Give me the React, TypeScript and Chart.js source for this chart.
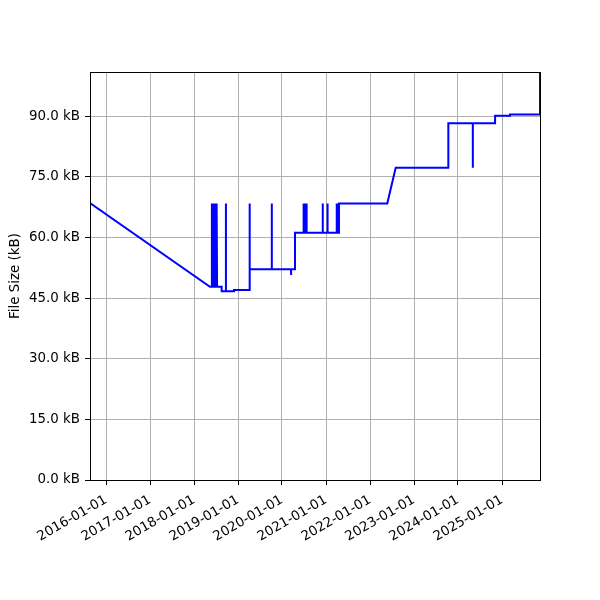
import { useEffect, useRef } from "react";
import { Chart, registerables } from "chart.js";

Chart.register(...registerables);

// file size history, one entry per commit (equal dates make the vertical spikes)
const commitDates: string[] = [
  "2015-08-21", "2018-05-13",
  "2018-05-29", "2018-05-29", "2018-05-30",
  "2018-06-04", "2018-06-04", "2018-06-05",
  "2018-06-10", "2018-06-10", "2018-06-11",
  "2018-06-16", "2018-06-16", "2018-06-17",
  "2018-06-22", "2018-06-22", "2018-06-23",
  "2018-06-28", "2018-06-28", "2018-06-29",
  "2018-07-04", "2018-07-04", "2018-07-05",
  "2018-07-10", "2018-07-10", "2018-07-11",
  "2018-08-18", "2018-08-18",
  "2018-09-22", "2018-09-22", "2018-09-23",
  "2018-11-29", "2018-11-29",
  "2019-04-05", "2019-04-05", "2019-04-06",
  "2019-04-10", "2019-04-10",
  "2019-10-08", "2019-10-08", "2019-10-09",
  "2020-03-16", "2020-03-16", "2020-03-17",
  "2020-04-18", "2020-04-18",
  "2020-06-28", "2020-06-28", "2020-06-29",
  "2020-07-10", "2020-07-10", "2020-07-11",
  "2020-07-23", "2020-07-23", "2020-07-24",
  "2020-12-04", "2020-12-04", "2020-12-05",
  "2021-01-13", "2021-01-13", "2021-01-14",
  "2021-03-30", "2021-03-30", "2021-03-31",
  "2021-04-09", "2021-04-09", "2021-04-10",
  "2021-04-18", "2021-04-18",
  "2022-05-24", "2022-08-02",
  "2023-10-13", "2023-10-13",
  "2024-05-03", "2024-05-03", "2024-05-04",
  "2024-11-04", "2024-11-04",
  "2025-03-08", "2025-03-08",
  "2025-11-12", "2025-11-12",
];

const fileSizesKB: number[] = [
  68.5, 47.8,
  47.8, 68.4, 47.8,
  47.8, 68.4, 47.8,
  47.8, 68.4, 47.8,
  47.8, 68.4, 47.8,
  47.8, 68.4, 47.8,
  47.8, 68.4, 47.8,
  47.8, 68.4, 47.8,
  47.8, 68.4, 47.8,
  47.8, 46.7,
  46.7, 68.4, 46.7,
  46.7, 47.0,
  47.0, 68.4, 47.0,
  47.0, 52.1,
  52.1, 68.4, 52.1,
  52.1, 50.7, 52.1,
  52.1, 61.15,
  61.15, 68.4, 61.15,
  61.15, 68.4, 61.15,
  61.15, 68.4, 61.15,
  61.15, 68.4, 61.15,
  61.15, 68.4, 61.15,
  61.15, 68.4, 61.15,
  61.15, 68.4, 61.15,
  61.15, 68.4,
  68.4, 77.2,
  77.2, 88.2,
  88.2, 77.2, 88.2,
  88.2, 90.1,
  90.1, 90.4,
  90.4, 100.9,
];

const yTickValues: number[] = [0, 15, 30, 45, 60, 75, 90];
const xTickDates: string[] = [
  "2016-01-01", "2017-01-01", "2018-01-01", "2019-01-01", "2020-01-01",
  "2021-01-01", "2022-01-01", "2023-01-01", "2024-01-01", "2025-01-01",
];
const yMaxKB = 100.9;

const toTime = (d: string) => Date.parse(d + "T00:00:00Z");

const framePlugin = {
  id: "frame",
  afterDatasetsDraw(chart: Chart) {
    const { ctx, chartArea } = chart;
    ctx.save();
    ctx.strokeStyle = "#000";
    ctx.lineWidth = 1;
    ctx.strokeRect(
      Math.round(chartArea.left) + 0.5,
      Math.round(chartArea.top) + 0.5,
      Math.round(chartArea.right - chartArea.left),
      Math.round(chartArea.bottom - chartArea.top)
    );
    ctx.restore();
  },
};

export default function App() {
  const canvasRef = useRef<HTMLCanvasElement>(null);
  const chartRef = useRef<Chart | null>(null);

  useEffect(() => {
    if (!canvasRef.current) return;
    if (chartRef.current) chartRef.current.destroy();

    const points = commitDates.map((d, i) => ({ x: toTime(d), y: fileSizesKB[i] }));
    const font = { family: "'DejaVu Sans', sans-serif", size: 13.4 };

    chartRef.current = new Chart(canvasRef.current, {
      type: "line",
      data: {
        datasets: [{
          data: points,
          borderColor: "#0000ff",
          borderWidth: 2,
          pointRadius: 0,
          tension: 0,
          fill: false,
        }],
      },
      plugins: [framePlugin],
      options: {
        animation: false,
        responsive: true,
        maintainAspectRatio: false,
        layout: { padding: { left: 0, right: 60, top: 72, bottom: 0 } },
        plugins: { legend: { display: false }, tooltip: { enabled: false } },
        scales: {
          x: {
            type: "linear",
            min: toTime(commitDates[0]),
            max: toTime(commitDates[commitDates.length - 1]),
            afterBuildTicks: (scale: any) => {
              scale.ticks = xTickDates.map(d => ({ value: toTime(d) }));
            },
            afterFit: (scale: any) => { scale.height = 120; },
            grid: { color: "#b0b0b0", lineWidth: 1, tickColor: "#000", tickLength: 5 },
            border: { color: "#000", width: 1 },
            ticks: {
              autoSkip: false,
              minRotation: 30,
              maxRotation: 30,
              padding: 7,
              labelOffset: 0,
              color: "#000",
              font,
              callback: (v: any) => new Date(v).toISOString().slice(0, 10),
            },
          },
          y: {
            type: "linear",
            min: 0,
            max: yMaxKB,
            afterBuildTicks: (scale: any) => {
              scale.ticks = yTickValues.map(v => ({ value: v }));
            },
            afterFit: (scale: any) => { scale.width = 90; },
            grid: { color: "#b0b0b0", lineWidth: 1, tickColor: "#000", tickLength: 5 },
            border: { color: "#000", width: 1 },
            ticks: {
              padding: 5,
              color: "#000",
              font,
              callback: (v: any) => Number(v).toFixed(1) + " kB",
            },
            title: {
              display: true,
              text: "File Size (kB)",
              color: "#000",
              font,
              padding: { top: 7, bottom: 0 },
            },
          },
        },
      },
    });

    return () => {
      if (chartRef.current) {
        chartRef.current.destroy();
        chartRef.current = null;
      }
    };
  }, []);

  return (
    <div style={{ position: "absolute", left: 0, top: 0, width: 600, height: 600, background: "#fff" }}>
      <canvas ref={canvasRef}></canvas>
    </div>
  );
}
